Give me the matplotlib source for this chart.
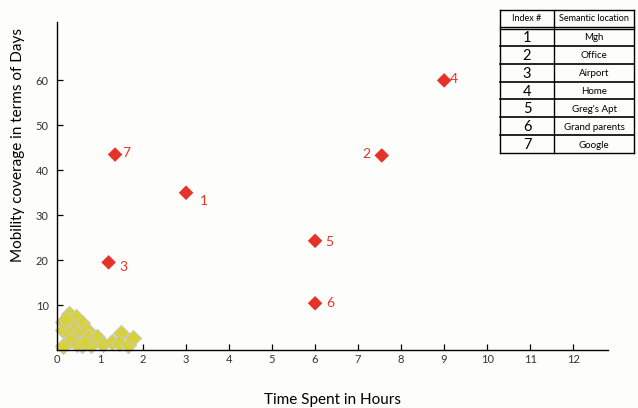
import matplotlib
matplotlib.use('Agg')
import matplotlib.pyplot as plt
from matplotlib.lines import Line2D

# named places (red) and their index numbers
index_labels = ['1', '2', '3', '4', '5', '6', '7']
locations = ['Mgh', 'Office', 'Airport', 'Home', "Greg's Apt", 'Grand parents', 'Google']
hours = [3.0, 7.55, 1.2, 9.0, 6.0, 6.0, 1.35]
days = [35.0, 43.3, 19.5, 60.0, 24.3, 10.4, 43.5]

# other visited places (yellow)
other_hours = [0.28, 0.44, 0.15, 0.57, 0.34, 0.15, 0.70, 0.47, 0.30, 0.73, 0.92,
               0.33, 0.57, 0.15, 0.80, 1.08, 1.27, 1.49, 1.43, 1.66, 1.77, 0.47,
               0.20, 0.62]
other_days = [8.0, 7.4, 6.3, 6.1, 5.2, 4.4, 4.4, 3.7, 3.6, 3.0, 3.0,
              2.2, 1.1, 1.0, 1.1, 1.3, 1.8, 3.7, 1.5, 1.1, 2.6, 1.4,
              7.0, 1.6]

# label offsets in points for the red numbers
label_offsets = [(10, -6), (-14, 1), (8, -3), (4, 1), (7, -1), (8, 0), (5, 1)]

x_ticks = list(range(0, 13))
y_ticks = [10, 20, 30, 40, 50, 60]

plt.rcParams['font.family'] = ['Lato', 'DejaVu Sans']

fig = plt.figure(figsize=(6.38, 4.08), dpi=100)
fig.patch.set_facecolor('#fdfdfb')
ax = fig.add_axes([57 / 638, 58 / 408, 551 / 638, 328 / 408])
ax.set_facecolor('#fdfdfb')

ax.scatter(other_hours, other_days, marker='D', s=68, color='#d8d23a',
           edgecolor='#c9c9c2', linewidth=0.7, zorder=2, clip_on=False)
ax.scatter(hours, days, marker='D', s=55, color='#e5332a', edgecolor='none', zorder=3)
for lab, x, y, off in zip(index_labels, hours, days, label_offsets):
    ax.annotate(lab, (x, y), xytext=off, textcoords='offset points',
                color='#e5332a', fontsize=10, va='center', ha='left')

ax.set_xlim(0, 12.81)
ax.set_ylim(0, 73)
ax.set_xticks(x_ticks)
ax.set_yticks(y_ticks)
for s in ['top', 'right']:
    ax.spines[s].set_visible(False)
for s in ['left', 'bottom']:
    ax.spines[s].set_linewidth(1.0)
ax.tick_params(direction='in', length=4, width=0.9, labelsize=8, labelcolor='#333333', pad=3)
ax.tick_params(axis='y', pad=6)

fig.text(333 / 638, 8 / 408, 'Time Spent in Hours', ha='center', va='center', fontsize=11)
fig.text(18 / 638, 1 - 145 / 408, 'Mobility coverage in terms of Days', ha='center',
         va='center', rotation=90, fontsize=11)

# index table in the top right corner
left, right, mid = 500, 634, 554
top, head_bottom, bottom = 10, 27, 153
row_h = (bottom - 28) / len(locations)

def fx(px):
    return px / 638

def fy(py):
    return 1 - py / 408

def hline(py, lw=1.0):
    fig.add_artist(Line2D([fx(left), fx(right)], [fy(py), fy(py)], color='black', lw=lw))

def vline(px, lw=1.0):
    fig.add_artist(Line2D([fx(px), fx(px)], [fy(top), fy(bottom)], color='black', lw=lw))

hline(top)
hline(head_bottom, 1.0)
hline(head_bottom + 2, 1.0)
for i in range(1, len(locations)):
    hline(28 + i * row_h, 1.2)
hline(bottom)
vline(left)
vline(mid)
vline(right)

fig.text(fx((left + mid) / 2), fy((top + head_bottom) / 2), 'Index #', ha='center',
         va='center', fontsize=6.5)
fig.text(fx((mid + right) / 2), fy((top + head_bottom) / 2), 'Semantic location',
         ha='center', va='center', fontsize=6.5)
for i, (lab, loc) in enumerate(zip(index_labels, locations)):
    yc = 28 + (i + 0.5) * row_h + 1
    fig.text(fx((left + mid) / 2), fy(yc), lab, ha='center', va='center', fontsize=10.5)
    fig.text(fx((mid + right) / 2), fy(yc), loc, ha='center', va='center', fontsize=7)

fig.savefig('out.png', dpi=100, facecolor=fig.get_facecolor())
